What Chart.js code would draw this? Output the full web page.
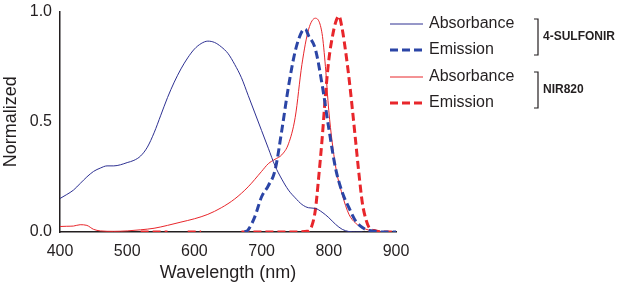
<!DOCTYPE html>
<html><head><meta charset="utf-8">
<script src="https://cdn.jsdelivr.net/npm/chart.js@4/dist/chart.umd.min.js"></script>
<style>html,body{margin:0;padding:0;background:#fff}#wrap{width:632px;height:286px}</style>
</head><body><div id="wrap"><canvas id="c" width="632" height="286"></canvas></div>
<script>
const xTicks = [400, 500, 600, 700, 800, 900];
const yTicks = [0, 0.5, 1.0];

const sulfAbsWl = [400,410,420,430,440,450,460,470,480,490,500,510,520,530,540,550,560,570,580,590,600,610,620,630,640,650,660,670,680,690,700,710,720,730,740,750,760,770,780,790,800,810,820,830,840,850];
const sulfAbs   = [.152,.17,.19,.22,.25,.275,.29,.30,.30,.305,.315,.325,.345,.385,.45,.53,.61,.68,.74,.79,.83,.855,.866,.86,.84,.81,.76,.70,.62,.54,.46,.38,.30,.24,.19,.155,.125,.11,.107,.09,.065,.035,.012,.002,0,0];

const sulfEmWl = [675,680,690,700,710,720,730,740,750,760,765,770,780,790,800,810,820,830,840,850,860,870,880,890,900];
const sulfEm   = [0,.01,.07,.16,.21,.28,.46,.66,.82,.91,.92,.89,.83,.67,.47,.29,.18,.11,.05,.02,.007,.003,0,0,0];

const nirAbsWl = [400,410,420,430,440,450,460,480,500,520,540,560,580,600,620,640,660,680,700,710,720,730,740,750,760,770,780,790,795,800,810,820,830,840,850,860,870,880];
const nirAbs   = [.025,.026,.027,.033,.03,.012,.005,.003,.005,.01,.017,.03,.045,.06,.08,.11,.15,.205,.275,.31,.33,.35,.40,.52,.76,.92,.97,.90,.75,.55,.30,.17,.08,.04,.02,.008,.003,0];

const nirEmWl = [520,560,565,590,610,615,670,700,740,770,775,780,785,790,795,800,805,810,815,820,825,830,835,840,845,850,855,860,870,880,890,900];
const nirEm   = [0,0,null,0,0,null,0,0,0,.005,.03,.1,.25,.42,.62,.78,.88,.95,.98,.92,.82,.70,.56,.41,.26,.13,.06,.02,.005,0,0,0];

const legendItems = [
  {label:'Absorbance', color:'#2e3192', width:1, dash:[]},
  {label:'Emission', color:'#2b45a6', width:3, dash:[8,4]},
  {label:'Absorbance', color:'#e8262b', width:1, dash:[]},
  {label:'Emission', color:'#e8262b', width:3, dash:[8,4]}
];
const groups = [{name:'4-SULFONIR', from:0, to:1},{name:'NIR820', from:2, to:3}];

function pts(xs, ys){ return xs.map((x,i)=>({x:x, y:ys[i]})); }

const FONT = "'Liberation Sans', Arial, sans-serif";

const legendPlugin = {
  id:'customLegend',
  afterDraw(chart){
    const ctx = chart.ctx;
    const rowY = [24, 50, 77, 103];
    ctx.save();
    legendItems.forEach((it,i)=>{
      ctx.beginPath();
      ctx.strokeStyle = it.color; ctx.lineWidth = it.width; ctx.setLineDash(it.dash);
      ctx.moveTo(390, rowY[i]); ctx.lineTo(423, rowY[i]); ctx.stroke();
      ctx.setLineDash([]);
      ctx.fillStyle = '#231f20'; ctx.font = '16px ' + FONT;
      ctx.textBaseline = 'middle'; ctx.textAlign = 'left';
      ctx.fillText(it.label, 429, rowY[i]);
    });
    groups.forEach(g=>{
      const y1 = rowY[g.from]-5, y2 = rowY[g.to]+5;
      ctx.beginPath(); ctx.strokeStyle = '#231f20'; ctx.lineWidth = 1.2;
      ctx.moveTo(534, y1); ctx.lineTo(538, y1); ctx.lineTo(538, y2); ctx.lineTo(534, y2); ctx.stroke();
      ctx.fillStyle = '#231f20'; ctx.font = 'bold 12px ' + FONT;
      ctx.textBaseline = 'middle';
      ctx.fillText(g.name, 543, (rowY[g.from]+rowY[g.to])/2);
    });
    ctx.restore();
  }
};

new Chart(document.getElementById('c'), {
  type:'line',
  data:{datasets:[
    {data:pts(sulfAbsWl,sulfAbs), borderColor:'#2e3192', borderWidth:1, pointRadius:0, cubicInterpolationMode:'monotone'},
    {data:pts(sulfEmWl,sulfEm), borderColor:'#2b45a6', borderWidth:3, borderDash:[8,4], pointRadius:0, cubicInterpolationMode:'monotone'},
    {data:pts(nirAbsWl,nirAbs), borderColor:'#e8262b', borderWidth:1, pointRadius:0, cubicInterpolationMode:'monotone'},
    {data:pts(nirEmWl,nirEm), borderColor:'#e8262b', borderWidth:3, borderDash:[8,4], pointRadius:0, cubicInterpolationMode:'monotone', spanGaps:false}
  ]},
  options:{
    responsive:false, animation:false,
    layout:{padding:{left:0, right:236, top:0, bottom:0}},
    plugins:{legend:{display:false}, tooltip:{enabled:false}},
    scales:{
      x:{type:'linear', min:400, max:900,
        afterBuildTicks(s){ s.ticks = xTicks.map(v=>({value:v})); },
        afterFit(s){ s.height = 54; },
        grid:{display:false, drawTicks:true, tickLength:4},
        border:{color:'#231f20', width:1.5},
        ticks:{color:'#231f20', font:{family:FONT, size:16}, padding:6, maxRotation:0},
        title:{display:true, text:'Wavelength (nm)', color:'#231f20', font:{family:FONT, size:18}, padding:{top:0,bottom:2}}
      },
      y:{min:0, max:1,
        afterBuildTicks(s){ s.ticks = yTicks.map(v=>({value:v})); },
        afterFit(s){ s.width = 60; },
        grid:{display:false, drawTicks:true, tickLength:6},
        border:{color:'#231f20', width:1.5},
        ticks:{color:'#231f20', font:{family:FONT, size:16}, padding:2, callback:v=>v.toFixed(1)},
        title:{display:true, text:'Normalized', color:'#231f20', font:{family:FONT, size:18}, padding:{top:0,bottom:0}}
      }
    }
  },
  plugins:[legendPlugin]
});
</script></body></html>
